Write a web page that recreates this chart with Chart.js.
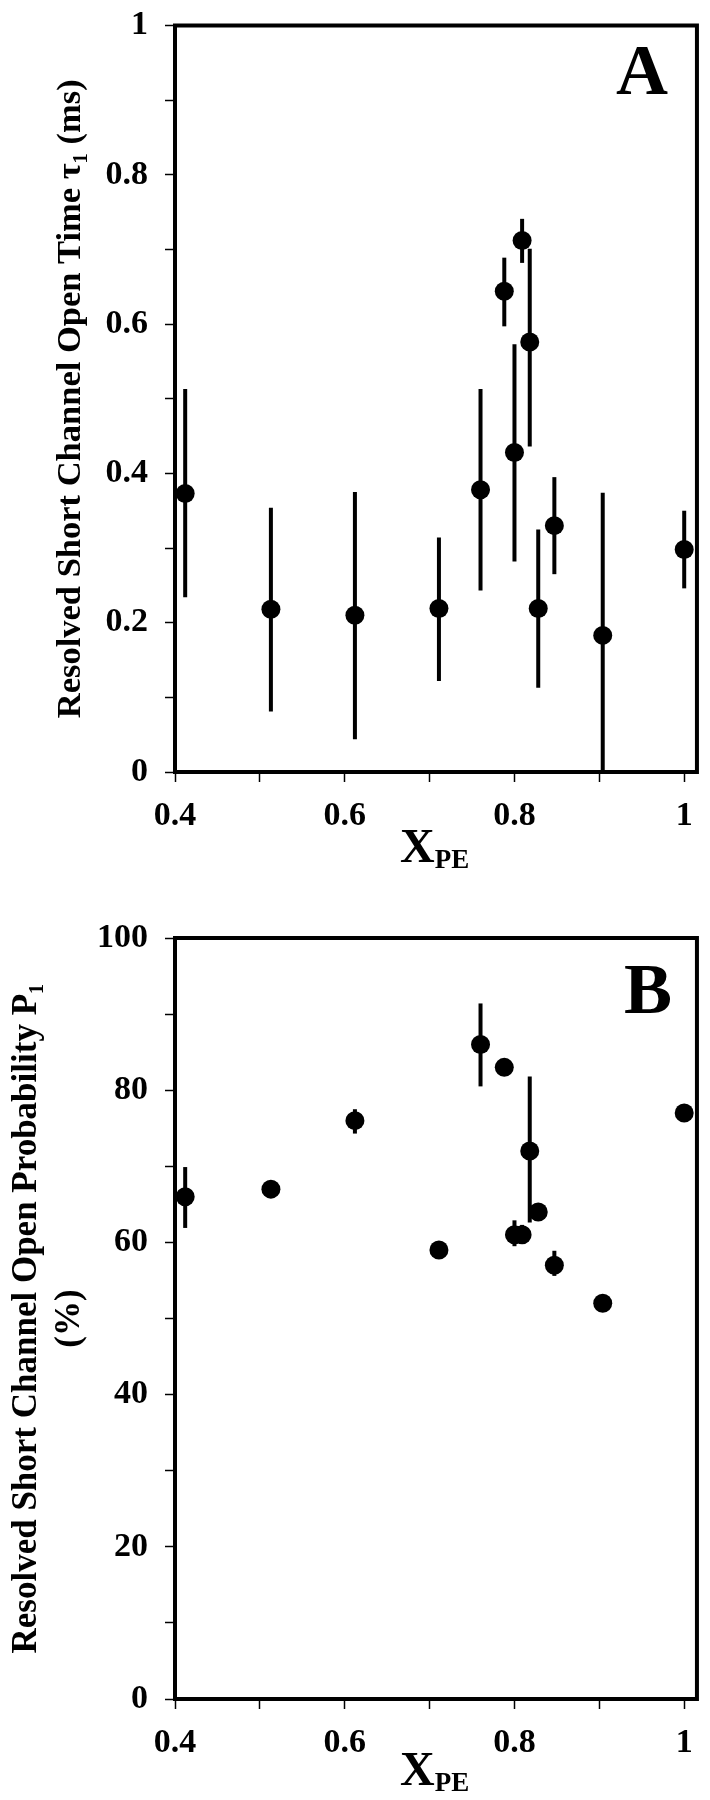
<!DOCTYPE html>
<html lang="en">

<head>
    <meta charset="UTF-8">
    <title>Resolved short channel</title>
    <script src="https://cdn.jsdelivr.net/npm/chart.js"></script>
    <style>
        body { margin: 0; background: #fff; }
        .pagina { position: relative; width: 710px; height: 1800px; }
        .painel { position: absolute; left: 0; width: 710px; height: 900px; }
        .rotulo {
            position: absolute;
            font-family: 'Liberation Serif', 'Times New Roman', serif;
            font-weight: bold;
            line-height: 1;
            color: #000;
            white-space: nowrap;
        }
        .letra { font-size: 72px; }
        .eixoX { font-size: 48px; }
        .eixoX span { font-size: 27px; position: relative; top: 6px; }
    </style>
</head>

<body>
    <div class="pagina">
        <div class="painel" style="top:0">
            <canvas id="graficoA" width="710" height="900"></canvas>
        </div>
        <div class="painel" style="top:900px">
            <canvas id="graficoB" width="710" height="900"></canvas>
        </div>

        <div class="rotulo letra" style="left:616px; top:34px">A</div>
        <div class="rotulo letra" style="left:624px; top:953px">B</div>
        <div class="rotulo eixoX" style="left:400px; top:822px">X<span>PE</span></div>
        <div class="rotulo eixoX" style="left:400px; top:1745px">X<span>PE</span></div>
    </div>

<script>
    // dados
    var xpe = [0.412, 0.513, 0.612, 0.711, 0.760, 0.788, 0.800, 0.809, 0.818, 0.828, 0.847, 0.904, 1.0];

    var tau1 = [0.373, 0.218, 0.210, 0.219, 0.378, 0.644, 0.428, 0.712, 0.576, 0.219, 0.330, 0.183, 0.298];
    var tau1Alto = [0.513, 0.354, 0.375, 0.314, 0.513, 0.689, 0.573, 0.741, 0.701, 0.325, 0.395, 0.374, 0.350];
    var tau1Baixo = [0.234, 0.081, 0.044, 0.122, 0.243, 0.597, 0.282, 0.682, 0.436, 0.113, 0.265, 0.0, 0.246];

    var p1 = [66, 67, 76, 59, 86, 83, 61, 61, 72, 64, 57, 52, 77];
    var p1Alto = [69.9, null, 77.5, 60.0, 91.4, null, 62.9, 62.3, 81.8, null, 58.9, null, null];
    var p1Baixo = [61.9, null, 74.3, 58.2, 80.5, null, 59.5, 60.3, 62.6, null, 55.6, null, null];

    var xTicks = [0.4, 0.5, 0.6, 0.7, 0.8, 0.9, 1.0];
    var xRotulos = ['0.4', '', '0.6', '', '0.8', '', '1'];
    var tauTicks = [0, 0.1, 0.2, 0.3, 0.4, 0.5, 0.6, 0.7, 0.8, 0.9, 1];
    var tauRotulos = ['0', '', '0.2', '', '0.4', '', '0.6', '', '0.8', '', '1'];
    var p1Ticks = [0, 10, 20, 30, 40, 50, 60, 70, 80, 90, 100];
    var p1Rotulos = ['0', '', '20', '', '40', '', '60', '', '80', '', '100'];

    var fonteSerif = 'Liberation Serif';

    // barras de erro verticais
    var barrasErro = {
        id: 'barrasErro',
        beforeDatasetsDraw: function (chart) {
            var ctx = chart.ctx;
            var escX = chart.scales.x;
            var escY = chart.scales.y;
            chart.data.datasets.forEach(function (ds) {
                ctx.save();
                ctx.strokeStyle = '#000';
                ctx.lineWidth = 4;
                ds.data.forEach(function (p, i) {
                    if (ds.erroAlto[i] == null) return;
                    var px = escX.getPixelForValue(p.x);
                    ctx.beginPath();
                    ctx.moveTo(px, escY.getPixelForValue(ds.erroAlto[i]));
                    ctx.lineTo(px, escY.getPixelForValue(ds.erroBaixo[i]));
                    ctx.stroke();
                });
                ctx.restore();
            });
        }
    };

    // moldura em volta da area do grafico
    var moldura = {
        id: 'moldura',
        afterDraw: function (chart) {
            var a = chart.chartArea;
            var ctx = chart.ctx;
            ctx.save();
            ctx.strokeStyle = '#000';
            ctx.lineWidth = 4;
            ctx.strokeRect(a.left, a.top, a.right - a.left, a.bottom - a.top);
            ctx.restore();
        }
    };

    function criarGrafico(idCanvas, valores, alto, baixo, yMax, yTicks, yRotulos, titulo, tituloTam, tituloPad, topo, alturaX) {
        var pontos = xpe.map(function (x, i) { return { x: x, y: valores[i] }; });

        var config = {
            type: 'scatter',
            data: {
                datasets: [{
                    data: pontos,
                    erroAlto: alto,
                    erroBaixo: baixo,
                    backgroundColor: '#000',
                    borderWidth: 0,
                    pointRadius: 9.5,
                    pointHoverRadius: 9.5
                }]
            },
            options: {
                responsive: false,
                animation: false,
                layout: { padding: { top: topo, right: 12, left: 0, bottom: 0 } },
                plugins: { legend: { display: false }, tooltip: { enabled: false } },
                scales: {
                    x: {
                        type: 'linear',
                        min: 0.4,
                        max: 1.015,
                        afterBuildTicks: function (eixo) {
                            eixo.ticks = xTicks.map(function (v) { return { value: v }; });
                        },
                        afterFit: function (eixo) { eixo.height = alturaX; },
                        border: { display: false },
                        grid: { drawOnChartArea: false, drawTicks: true, tickLength: 10, tickWidth: 1.5, tickColor: '#000' },
                        ticks: {
                            autoSkip: false,
                            maxRotation: 0,
                            padding: 17,
                            color: '#000',
                            font: { family: fonteSerif, size: 34, weight: 'bold', lineHeight: 1 },
                            callback: function (v, i) { return xRotulos[i]; }
                        }
                    },
                    y: {
                        min: 0,
                        max: yMax,
                        afterBuildTicks: function (eixo) {
                            eixo.ticks = yTicks.map(function (v) { return { value: v }; });
                        },
                        afterFit: function (eixo) { eixo.width = 175; },
                        border: { display: false },
                        grid: { drawOnChartArea: false, drawTicks: true, tickLength: 10, tickWidth: 1.5, tickColor: '#000' },
                        ticks: {
                            autoSkip: false,
                            padding: 17,
                            color: '#000',
                            font: { family: fonteSerif, size: 34, weight: 'bold', lineHeight: 0.5 },
                            callback: function (v, i) { return yRotulos[i]; }
                        },
                        title: {
                            display: true,
                            text: titulo,
                            color: '#000',
                            padding: { top: tituloPad, bottom: 0 },
                            font: { family: fonteSerif, size: tituloTam, weight: 'bold', lineHeight: 1.23 }
                        }
                    }
                }
            },
            plugins: [barrasErro, moldura]
        };

        return new Chart(document.getElementById(idCanvas), config);
    }

    criarGrafico('graficoA', tau1, tau1Alto, tau1Baixo, 1, tauTicks, tauRotulos,
        'Resolved Short Channel Open Time \u03c4\u2081 (ms)', 34.5, 50, 20, 128);

    criarGrafico('graficoB', p1, p1Alto, p1Baixo, 100, p1Ticks, p1Rotulos,
        ['Resolved Short Channel Open Probability P\u2081', '(%)'], 35, 5, 38, 101);
</script>
</body>

</html>
